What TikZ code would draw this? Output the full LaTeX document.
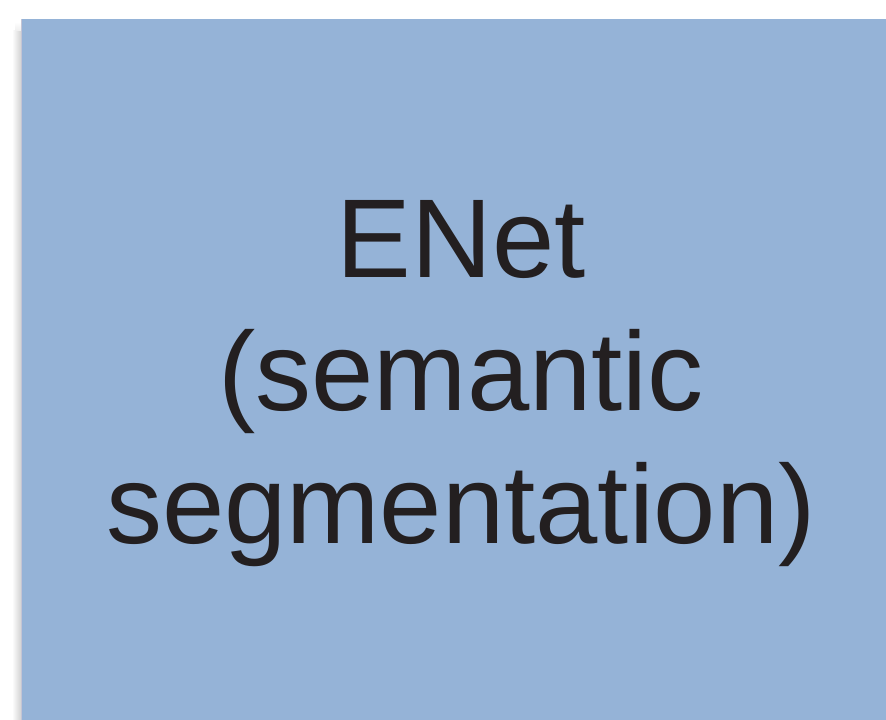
\documentclass[tikz,border=0pt]{standalone}
\usepackage{fontspec}
\setmainfont{Liberation Sans}
\usetikzlibrary{positioning}
\definecolor{boxblue}{HTML}{95B3D7}
\definecolor{inkgray}{HTML}{231F20}
\begin{document}
\begin{tikzpicture}[
    x=1pt, y=-1pt,
    every node/.style = {font=\fontsize{112}{133}\selectfont, text=inkgray},
    block/.style = {fill=boxblue, draw=none},
]
\useasboundingbox (0,0) rectangle (886,720);
% soft shadow on the left edge
\shade[left color=white, right color=gray!35] (12,30) rectangle (21,720);
\shade[top color=white, bottom color=gray!12] (15,22) rectangle (21,30);
% the block
\fill[block] (21,19) rectangle (886,720);
\draw[blue!15!gray!40, line width=1.2pt] (21.6,19) -- (21.6,720);
\node[align=center] (enet) at (461,384) {ENet\\(semantic\\segmentation)};
\end{tikzpicture}
\end{document}
